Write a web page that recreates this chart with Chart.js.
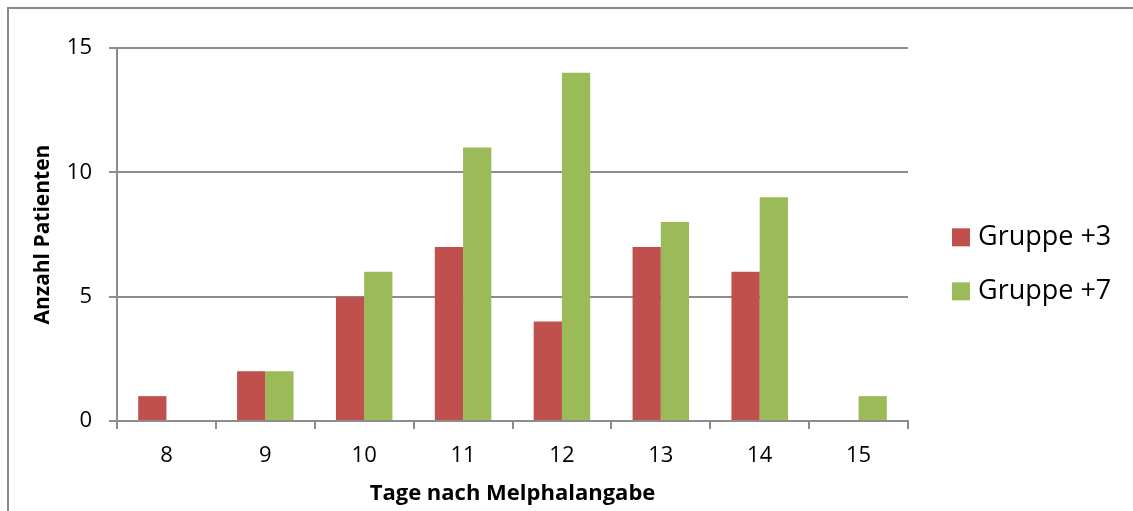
<!DOCTYPE html>
<html>
<head>
<meta charset="utf-8">
<script src="https://cdn.jsdelivr.net/npm/chart.js@4/dist/chart.umd.min.js"></script>
<style>
  html, body { margin: 0; padding: 0; background: #fff; overflow: hidden; }
  #wrap { position: relative; width: 1133px; height: 511px; }
  #frame { position: absolute; left: 7px; top: 7px; width: 1140px; height: 520px;
           border-left: 2px solid #8a8a8a; border-top: 2px solid #8a8a8a; box-sizing: border-box; }
  canvas { position: absolute; left: 0; top: 0; }
</style>
</head>
<body>
<div id="wrap">
  <div id="frame"></div>
  <canvas id="chart" width="1133" height="511"></canvas>
</div>
<script>
const days = ['8', '9', '10', '11', '12', '13', '14', '15'];
const gruppe3 = [1, 2, 5, 7, 4, 7, 6, 0];
const gruppe7 = [0, 2, 6, 11, 14, 8, 9, 1];
const yTicks = [0, 5, 10, 15];

const FONT = '"Open Sans", "Noto Sans", sans-serif';
const GRID = '#8c8c8c';

// legend drawn by hand so it sits where the original has it
const sideLegend = {
    id: 'sideLegend',
    afterDraw(chart) {
        const ctx = chart.ctx;
        const area = chart.chartArea;
        const x = area.right + 44;
        const mid = area.top + (area.bottom - area.top) * 0.58;
        ctx.save();
        ctx.font = '27px ' + FONT;
        ctx.textBaseline = 'middle';
        ctx.textAlign = 'left';
        chart.data.datasets.forEach((ds, i) => {
            const cy = mid + (i - 0.5) * 54;
            ctx.fillStyle = ds.backgroundColor;
            ctx.fillRect(x, cy - 9, 18, 18);
            ctx.fillStyle = '#000';
            ctx.fillText(ds.label, x + 26, cy);
        });
        ctx.restore();
    }
};

new Chart(document.getElementById('chart').getContext('2d'), {
    type: 'bar',
    data: {
        labels: days,
        datasets: [
            { label: 'Gruppe +3', data: gruppe3, backgroundColor: '#C0504D' },
            { label: 'Gruppe +7', data: gruppe7, backgroundColor: '#9BBB59' }
        ]
    },
    options: {
        responsive: false,
        animation: false,
        layout: { padding: { left: 0, top: 48, right: 225, bottom: 0 } },
        plugins: {
            legend: { display: false },
            tooltip: { enabled: false }
        },
        datasets: {
            bar: { barPercentage: 1, categoryPercentage: 2 / 3.5 }
        },
        scales: {
            x: {
                offset: true,
                afterFit(scale) { scale.height = 90; },
                grid: {
                    offset: true,
                    drawOnChartArea: false,
                    drawTicks: true,
                    tickLength: 8,
                    color: GRID,
                    lineWidth: 2
                },
                border: { display: true, color: GRID, width: 2 },
                ticks: { color: '#000', font: { family: FONT, size: 22 }, padding: 14 },
                title: {
                    display: true,
                    text: 'Tage nach Melphalangabe',
                    color: '#000',
                    font: { family: FONT, size: 22, weight: 'bold' },
                    padding: { top: 0, bottom: 4 }
                }
            },
            y: {
                min: 0,
                max: 15,
                afterFit(scale) { scale.width = 117; },
                afterBuildTicks(scale) { scale.ticks = yTicks.map(v => ({ value: v })); },
                grid: {
                    color: GRID,
                    lineWidth: 2,
                    drawTicks: true,
                    tickLength: 8
                },
                border: { display: true, color: GRID, width: 2 },
                ticks: { color: '#000', font: { family: FONT, size: 22 }, padding: 17 },
                title: {
                    display: true,
                    text: 'Anzahl Patienten',
                    color: '#000',
                    font: { family: FONT, size: 21, weight: 'bold' },
                    padding: { top: 30, bottom: 0 }
                }
            }
        }
    },
    plugins: [sideLegend]
});
</script>
</body>
</html>
